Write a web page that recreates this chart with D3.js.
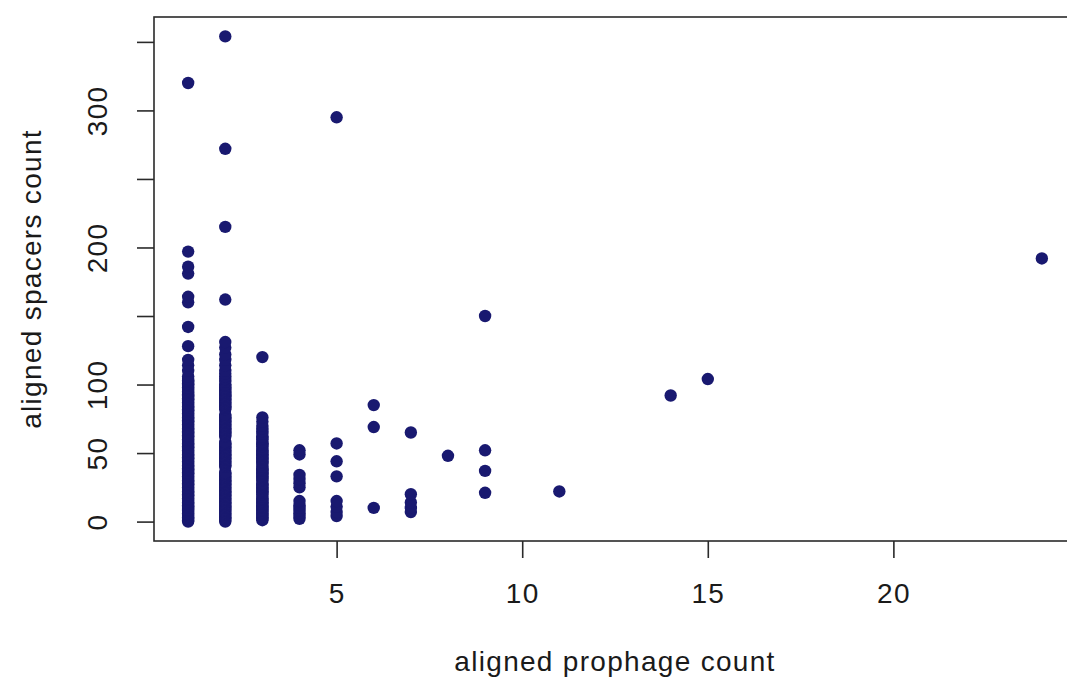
<!DOCTYPE html>
<html>
<head>
<meta charset="utf-8">
<script src="https://cdn.jsdelivr.net/npm/d3@7"></script>
<style>
  html, body { margin: 0; padding: 0; background: #ffffff; }
  svg { display: block; }
  text { font-family: "Liberation Sans", Arial, sans-serif; fill: #1a1a1a; }
</style>
</head>
<body>
<svg id="chart" width="1067" height="679"></svg>
<script>
// ---- Data ----
// aligned spacers count, grouped by aligned prophage count
const spacers1 = [0,1,2,3,4,5,6,7,8,9,10,11,12,13,14,15,16,17,18,19,20,21,22,23,24,25,26,27,28,29,30,
  31,32,33,34,35,36,37,38,39,40,41,42,43,44,45,46,47,48,49,50,51,52,53,54,55,56,57,58,59,60,
  61,62,63,64,65,66,67,68,69,70,71,72,73,74,75,76,77,78,79,80,81,82,83,84,85,86,87,88,89,90,
  91,92,93,94,95,96,97,98,99,100,101,102,103,104,106,110,114,118,128,142,160,164,181,186,197,320];
const spacers2 = [0,1,2,3,4,5,6,7,8,9,10,11,12,13,14,15,16,17,18,19,20,21,22,23,24,25,26,27,28,29,30,
  31,32,33,34,35,36,40,41,42,43,44,45,46,47,48,49,50,51,52,53,54,55,56,57,58,62,63,64,65,66,
  67,68,69,70,71,72,73,74,75,76,77,78,82,83,84,85,86,87,88,89,90,91,92,93,94,95,96,97,98,99,
  100,102,104,106,108,110,114,118,122,127,131,162,215,272,354];
const spacers3 = [1,2,3,4,5,6,7,8,9,10,11,12,13,14,15,16,17,18,20,21,22,23,24,25,26,27,28,30,31,32,
  33,34,35,36,37,38,39,40,42,43,44,45,46,47,48,49,50,51,52,53,55,56,57,58,60,61,62,64,66,68,70,73,76,120];
const spacers4 = [2,4,6,8,10,12,15,25,28,31,34,49,52];
const spacers5 = [4,7,11,15,33,44,57,295];
const spacers6 = [10,69,85];
const spacers7 = [7,10,14,20,65];
const spacers8 = [48];
const spacers9 = [21,37,52,150];
const spacers11 = [22];
const spacers14 = [92];
const spacers15 = [104];
const spacers24 = [192];

const prophageCounts = [1,2,3,4,5,6,7,8,9,11,14,15,24];
const spacerGroups = [spacers1,spacers2,spacers3,spacers4,spacers5,spacers6,spacers7,
  spacers8,spacers9,spacers11,spacers14,spacers15,spacers24];

const xTicks = [5,10,15,20];
const yTicks = [0,50,100,150,200,250,300,350];
const yTickLabels = ["0","50","100","","200","","300",""];

const xTitle = "aligned prophage count";
const yTitle = "aligned spacers count";

// build point table
const points = [];
prophageCounts.forEach((p, i) => {
  spacerGroups[i].forEach(s => points.push({x: p, y: s}));
});

// ---- Layout ----
const plot = {left: 154, right: 1076, top: 17, bottom: 541};
const svg = d3.select("#chart");

const x = d3.scaleLinear().domain([0.08, 24.92]).range([plot.left, plot.right]);
const y = d3.scaleLinear().domain([-14.16, 368.16]).range([plot.bottom, plot.top]);

const axisColor = "#2a2a2a";
const fontSize = 28;
const spacing = "1.3px";

// points
svg.append("g")
  .selectAll("circle")
  .data(points)
  .join("circle")
  .attr("cx", d => x(d.x))
  .attr("cy", d => y(d.y))
  .attr("r", 6.2)
  .attr("fill", "#191970");

// box
svg.append("rect")
  .attr("x", plot.left).attr("y", plot.top)
  .attr("width", plot.right - plot.left)
  .attr("height", plot.bottom - plot.top)
  .attr("fill", "none")
  .attr("stroke", axisColor)
  .attr("stroke-width", 1.6);

// x axis
const xAxis = d3.axisBottom(x).tickValues(xTicks).tickSize(17).tickPadding(25)
  .tickFormat(d3.format("d"));
const gx = svg.append("g").attr("transform", `translate(0,${plot.bottom})`).call(xAxis);
gx.select(".domain").remove();
gx.selectAll(".tick line").attr("stroke", axisColor).attr("stroke-width", 1.6);
gx.selectAll(".tick text")
  .attr("font-size", fontSize)
  .attr("font-family", "Liberation Sans, Arial, sans-serif")
  .style("letter-spacing", spacing)
  .attr("fill", "#1a1a1a");

// y axis
const yAxis = d3.axisLeft(y).tickValues(yTicks).tickSize(17)
  .tickFormat((d, i) => yTickLabels[i]);
const gy = svg.append("g").attr("transform", `translate(${plot.left},0)`).call(yAxis);
gy.select(".domain").remove();
gy.selectAll(".tick line").attr("stroke", axisColor).attr("stroke-width", 1.6);
gy.selectAll(".tick text")
  .attr("font-size", fontSize)
  .attr("font-family", "Liberation Sans, Arial, sans-serif")
  .style("letter-spacing", spacing)
  .attr("fill", "#1a1a1a")
  .attr("transform", "rotate(-90)")
  .attr("x", 0)
  .attr("y", -47)
  .attr("dy", 0)
  .attr("text-anchor", "middle");

// titles
svg.append("text")
  .attr("x", (plot.left + plot.right) / 2)
  .attr("y", 671)
  .attr("text-anchor", "middle")
  .attr("font-size", fontSize)
  .style("letter-spacing", spacing)
  .text(xTitle);

svg.append("text")
  .attr("transform", `translate(41,${(plot.top + plot.bottom) / 2}) rotate(-90)`)
  .attr("text-anchor", "middle")
  .attr("font-size", fontSize)
  .style("letter-spacing", spacing)
  .text(yTitle);
</script>
</body>
</html>
